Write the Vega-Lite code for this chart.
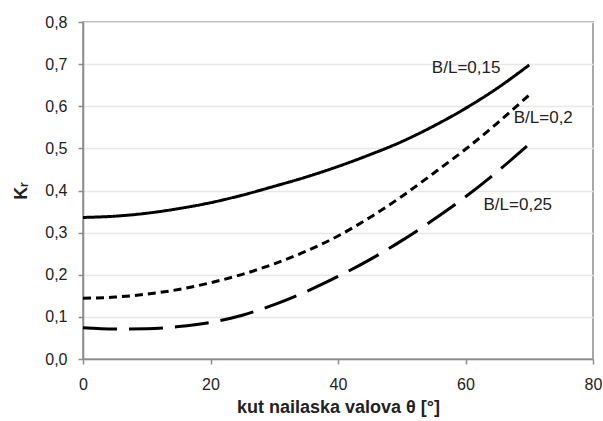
{
  "$schema": "https://vega.github.io/schema/vega-lite/v6.json",
  "width": 510,
  "height": 337,
  "autosize": {"type": "none"},
  "padding": {"left": 83, "top": 22, "right": 10, "bottom": 62},
  "background": "white",
  "config": {
    "font": "Liberation Sans",
    "view": {"stroke": "#8c8c8c", "strokeWidth": 1.5},
    "axis": {
      "domainColor": "#8c8c8c",
      "domainWidth": 1.5,
      "tickColor": "#8c8c8c",
      "tickWidth": 1.5,
      "tickSize": 5,
      "labelFont": "Liberation Sans",
      "labelFontSize": 16,
      "labelColor": "#222222",
      "titleFont": "Liberation Sans",
      "titleFontSize": 18,
      "titleFontWeight": "bold",
      "titleColor": "#222222"
    }
  },
  "datasets": {
    "curves": [
      {"theta": 0, "K": 0.336, "s": "B/L=0,15"},
      {"theta": 5, "K": 0.339, "s": "B/L=0,15"},
      {"theta": 10, "K": 0.346, "s": "B/L=0,15"},
      {"theta": 15, "K": 0.357, "s": "B/L=0,15"},
      {"theta": 20, "K": 0.371, "s": "B/L=0,15"},
      {"theta": 25, "K": 0.389, "s": "B/L=0,15"},
      {"theta": 30, "K": 0.410, "s": "B/L=0,15"},
      {"theta": 35, "K": 0.432, "s": "B/L=0,15"},
      {"theta": 40, "K": 0.457, "s": "B/L=0,15"},
      {"theta": 45, "K": 0.485, "s": "B/L=0,15"},
      {"theta": 50, "K": 0.516, "s": "B/L=0,15"},
      {"theta": 55, "K": 0.553, "s": "B/L=0,15"},
      {"theta": 60, "K": 0.595, "s": "B/L=0,15"},
      {"theta": 65, "K": 0.643, "s": "B/L=0,15"},
      {"theta": 70, "K": 0.698, "s": "B/L=0,15"},
      {"theta": 0, "K": 0.144, "s": "B/L=0,2"},
      {"theta": 5, "K": 0.147, "s": "B/L=0,2"},
      {"theta": 10, "K": 0.154, "s": "B/L=0,2"},
      {"theta": 15, "K": 0.165, "s": "B/L=0,2"},
      {"theta": 20, "K": 0.181, "s": "B/L=0,2"},
      {"theta": 25, "K": 0.201, "s": "B/L=0,2"},
      {"theta": 30, "K": 0.226, "s": "B/L=0,2"},
      {"theta": 35, "K": 0.256, "s": "B/L=0,2"},
      {"theta": 40, "K": 0.292, "s": "B/L=0,2"},
      {"theta": 45, "K": 0.336, "s": "B/L=0,2"},
      {"theta": 50, "K": 0.386, "s": "B/L=0,2"},
      {"theta": 55, "K": 0.441, "s": "B/L=0,2"},
      {"theta": 60, "K": 0.498, "s": "B/L=0,2"},
      {"theta": 65, "K": 0.560, "s": "B/L=0,2"},
      {"theta": 70, "K": 0.627, "s": "B/L=0,2"},
      {"theta": 0, "K": 0.074, "s": "B/L=0,25"},
      {"theta": 5, "K": 0.071, "s": "B/L=0,25"},
      {"theta": 10, "K": 0.072, "s": "B/L=0,25"},
      {"theta": 15, "K": 0.077, "s": "B/L=0,25"},
      {"theta": 20, "K": 0.087, "s": "B/L=0,25"},
      {"theta": 25, "K": 0.104, "s": "B/L=0,25"},
      {"theta": 30, "K": 0.129, "s": "B/L=0,25"},
      {"theta": 35, "K": 0.160, "s": "B/L=0,25"},
      {"theta": 40, "K": 0.196, "s": "B/L=0,25"},
      {"theta": 45, "K": 0.236, "s": "B/L=0,25"},
      {"theta": 50, "K": 0.281, "s": "B/L=0,25"},
      {"theta": 55, "K": 0.331, "s": "B/L=0,25"},
      {"theta": 60, "K": 0.385, "s": "B/L=0,25"},
      {"theta": 65, "K": 0.445, "s": "B/L=0,25"},
      {"theta": 70, "K": 0.510, "s": "B/L=0,25"}
    ],
    "labels": [
      {"theta": 60.1, "K": 0.69, "text": "B/L=0,15"},
      {"theta": 72.2, "K": 0.571, "text": "B/L=0,2"},
      {"theta": 68.2, "K": 0.366, "text": "B/L=0,25"}
    ]
  },
  "layer": [
    {
      "data": {"name": "curves"},
      "mark": {"type": "line", "color": "black", "strokeWidth": 3, "interpolate": "monotone", "strokeCap": "butt"},
      "encoding": {
        "x": {
          "field": "theta", "type": "quantitative",
          "scale": {"domain": [0, 80], "nice": false},
          "axis": {"values": [0, 20, 40, 60, 80], "grid": false, "title": "kut nailaska valova θ [°]", "labelPadding": 12, "titlePadding": 6, "labelFlush": false}
        },
        "y": {
          "field": "K", "type": "quantitative",
          "scale": {"domain": [0, 0.8], "nice": false},
          "axis": {
            "values": [0, 0.1, 0.2, 0.3, 0.4, 0.5, 0.6, 0.7, 0.8],
            "grid": true, "gridColor": "#e8e8e8", "gridWidth": 1.5,
            "labelExpr": "replace(format(datum.value, '.1f'), '.', ',')",
            "title": "Kᵣ", "labelPadding": 11, "titlePadding": 14, "labelFlush": false
          }
        },
        "strokeDash": {
          "field": "s", "type": "nominal",
          "scale": {"domain": ["B/L=0,15", "B/L=0,2", "B/L=0,25"], "range": [[1, 0], [8, 5], [34, 12]]},
          "legend": null
        },
        "detail": {"field": "s"}
      }
    },
    {
      "data": {"name": "labels"},
      "mark": {"type": "text", "font": "Liberation Sans", "fontSize": 17, "color": "#222222", "align": "center", "baseline": "middle"},
      "encoding": {
        "x": {"field": "theta", "type": "quantitative"},
        "y": {"field": "K", "type": "quantitative"},
        "text": {"field": "text"}
      }
    }
  ]
}
